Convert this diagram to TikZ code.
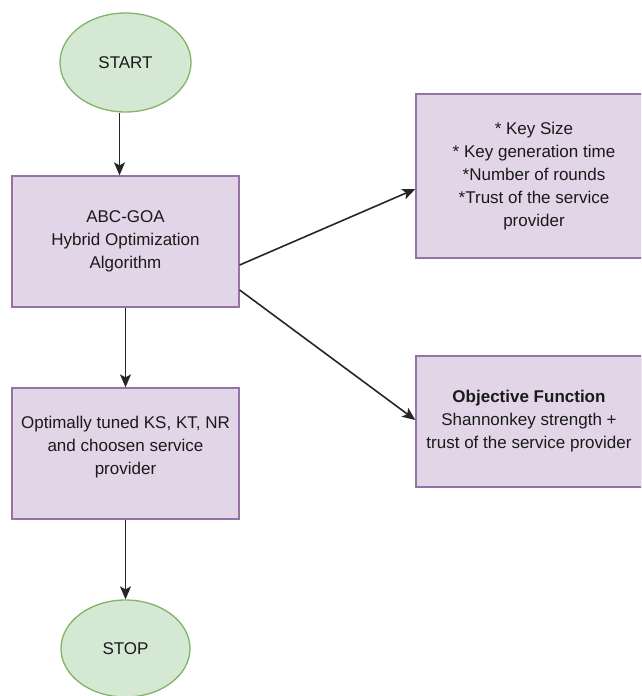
\documentclass[tikz,border=0pt]{standalone}
\usepackage{fontspec}
\setmainfont{Liberation Sans}
\usetikzlibrary{shapes.geometric,arrows.meta}
\definecolor{gfill}{HTML}{D5E8D4}
\definecolor{gdraw}{HTML}{82B366}
\definecolor{pfill}{HTML}{E1D5E7}
\definecolor{pdraw}{HTML}{9673A6}
\definecolor{txt}{HTML}{1A1A1A}
\begin{document}
\begin{tikzpicture}[x=1pt,y=-1pt,
  every node/.style={font=\fontsize{17}{23}\selectfont, text=txt, align=center, inner sep=0pt},
  term/.style={ellipse, draw=gdraw, fill=gfill, line width=1.3pt},
  pbox/.style={rectangle, draw=pdraw, fill=pfill, line width=1.3pt},
  arr/.style={-{Stealth[length=13pt,width=11pt,inset=3pt]}, line width=1.6pt, draw=black!85}]
\useasboundingbox (0,0) rectangle (641,696);
\clip (0,0) rectangle (641,696);
\node[term, minimum width=131pt, minimum height=99pt] (start) at (125.5,62.5) {START};
\node[pbox, minimum width=227pt, minimum height=131pt] (abc) at (125.5,241.5) {ABC-GOA\\Hybrid Optimization\\Algorithm};
\node[pbox, minimum width=227pt, minimum height=131pt] (opt) at (125.5,453.5) {};
\node (optt) at (125.5,447) {Optimally tuned KS, KT, NR\\and choosen service\\provider};
\node[term, minimum width=129pt, minimum height=97pt] (stop) at (125.5,648.5) {STOP};
\node[pbox, minimum width=236pt, minimum height=164pt] (par) at (534,176) {* Key Size\\* Key generation time\\*Number of rounds\\*Trust of the service\\provider};
\node[pbox, minimum width=226pt, minimum height=131pt] (obj) at (529,421.5) {\textbf{Objective Function}\\Shannonkey strength +\\trust of the service provider};
\draw[arr] ([xshift=-6pt]start.south) -- ([xshift=-6pt]abc.north);
\draw[arr] (abc.south) -- (opt.north);
\draw[arr] (opt.south) -- (stop.north);
\draw[arr] ([yshift=-23.5pt]abc.east) -- ([yshift=-13pt]par.west);
\draw[arr] ([yshift=-48.5pt]abc.east) -- ([yshift=1.5pt]obj.west);
\end{tikzpicture}
\end{document}
